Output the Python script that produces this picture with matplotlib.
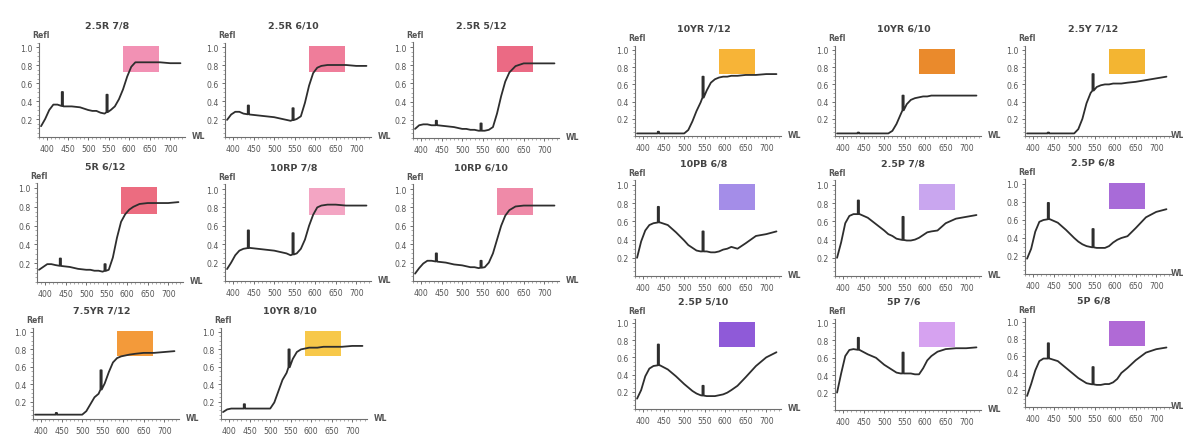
import matplotlib
matplotlib.use("Agg")
import matplotlib.pyplot as plt
import numpy as np
from matplotlib.ticker import MultipleLocator
from matplotlib.patches import Rectangle

# ---------------- data ----------------
WL = [385, 395, 405, 415, 425, 440, 460, 480, 500, 510, 520, 530, 540,
      555, 565, 575, 585, 595, 605, 615, 630, 650, 675, 700, 725]
SPIKE_WL = [437, 546]
X_TICKS = [400, 450, 500, 550, 600, 650, 700]
Y_TICKS = [0.2, 0.4, 0.6, 0.8, 1.0]

TITLES = ["2.5R 7/8", "2.5R 6/10", "2.5R 5/12",
          "5R 6/12", "10RP 7/8", "10RP 6/10",
          "7.5YR 7/12", "10YR 8/10",
          "10YR 7/12", "10YR 6/10", "2.5Y 7/12",
          "10PB 6/8", "2.5P 7/8", "2.5P 6/8",
          "2.5P 5/10", "5P 7/6", "5P 6/8"]

r_25R78 = [0.12, 0.20, 0.30, 0.36, 0.36, 0.34, 0.34, 0.33, 0.30, 0.29, 0.29, 0.27, 0.26,
           0.30, 0.34, 0.42, 0.53, 0.67, 0.78, 0.83, 0.83, 0.83, 0.83, 0.82, 0.82]
r_25R610 = [0.19, 0.25, 0.28, 0.28, 0.26, 0.25, 0.24, 0.23, 0.22, 0.21, 0.20, 0.19, 0.18,
            0.20, 0.23, 0.38, 0.57, 0.71, 0.77, 0.79, 0.80, 0.80, 0.80, 0.79, 0.79]
r_25R512 = [0.10, 0.14, 0.15, 0.15, 0.14, 0.14, 0.13, 0.12, 0.10, 0.10, 0.09, 0.09, 0.08,
            0.08, 0.09, 0.12, 0.27, 0.46, 0.62, 0.72, 0.79, 0.82, 0.82, 0.82, 0.82]
r_5R612 = [0.13, 0.16, 0.19, 0.19, 0.18, 0.17, 0.16, 0.14, 0.13, 0.13, 0.12, 0.12, 0.11,
           0.13, 0.26, 0.47, 0.64, 0.72, 0.77, 0.80, 0.83, 0.84, 0.84, 0.84, 0.85]
r_10RP78 = [0.13, 0.20, 0.28, 0.33, 0.35, 0.36, 0.35, 0.34, 0.33, 0.32, 0.31, 0.30, 0.28,
            0.30, 0.35, 0.45, 0.60, 0.72, 0.80, 0.82, 0.83, 0.83, 0.82, 0.82, 0.82]
r_10RP610 = [0.08, 0.14, 0.19, 0.22, 0.22, 0.21, 0.20, 0.18, 0.17, 0.16, 0.15, 0.15, 0.14,
             0.15, 0.20, 0.30, 0.45, 0.60, 0.71, 0.77, 0.81, 0.82, 0.82, 0.82, 0.82]
r_75YR712 = [0.05, 0.05, 0.05, 0.05, 0.05, 0.05, 0.05, 0.05, 0.05, 0.09, 0.17, 0.25, 0.29,
             0.41, 0.54, 0.65, 0.70, 0.72, 0.73, 0.74, 0.75, 0.76, 0.76, 0.77, 0.78]
r_10YR810 = [0.08, 0.11, 0.12, 0.12, 0.12, 0.12, 0.12, 0.12, 0.12, 0.19, 0.32, 0.45, 0.53,
             0.69, 0.77, 0.80, 0.81, 0.82, 0.82, 0.82, 0.83, 0.83, 0.83, 0.84, 0.84]
r_10YR712 = [0.03, 0.03, 0.03, 0.03, 0.03, 0.03, 0.03, 0.03, 0.03, 0.07, 0.17, 0.29, 0.39,
             0.53, 0.62, 0.66, 0.68, 0.69, 0.69, 0.70, 0.70, 0.71, 0.71, 0.72, 0.72]
r_10YR610 = [0.03, 0.03, 0.03, 0.03, 0.03, 0.03, 0.03, 0.03, 0.03, 0.03, 0.06, 0.14, 0.25,
             0.37, 0.42, 0.44, 0.45, 0.46, 0.46, 0.47, 0.47, 0.47, 0.47, 0.47, 0.47]
r_25Y712 = [0.03, 0.03, 0.03, 0.03, 0.03, 0.03, 0.03, 0.03, 0.03, 0.08, 0.20, 0.38, 0.50,
            0.57, 0.59, 0.60, 0.60, 0.61, 0.61, 0.61, 0.62, 0.63, 0.65, 0.67, 0.69]
r_10PB68 = [0.20, 0.38, 0.50, 0.56, 0.58, 0.59, 0.56, 0.48, 0.39, 0.34, 0.31, 0.28, 0.27,
            0.27, 0.26, 0.26, 0.27, 0.29, 0.30, 0.32, 0.30, 0.36, 0.44, 0.46, 0.49]
r_25P78 = [0.20, 0.37, 0.58, 0.66, 0.68, 0.68, 0.64, 0.57, 0.50, 0.46, 0.44, 0.41, 0.40,
           0.39, 0.39, 0.40, 0.42, 0.45, 0.48, 0.49, 0.50, 0.58, 0.63, 0.65, 0.67]
r_25P68 = [0.17, 0.28, 0.47, 0.58, 0.60, 0.61, 0.57, 0.49, 0.40, 0.36, 0.33, 0.31, 0.30,
           0.29, 0.29, 0.29, 0.31, 0.35, 0.38, 0.40, 0.42, 0.51, 0.63, 0.69, 0.72]
r_25P510 = [0.12, 0.22, 0.38, 0.47, 0.50, 0.51, 0.46, 0.38, 0.29, 0.25, 0.21, 0.18, 0.16,
            0.15, 0.15, 0.15, 0.16, 0.17, 0.19, 0.22, 0.27, 0.37, 0.50, 0.60, 0.66]
r_5P76 = [0.20, 0.42, 0.62, 0.69, 0.70, 0.69, 0.64, 0.60, 0.52, 0.49, 0.46, 0.43, 0.42,
          0.42, 0.42, 0.41, 0.41, 0.48, 0.57, 0.62, 0.67, 0.70, 0.71, 0.71, 0.72]
r_5P68 = [0.13, 0.27, 0.43, 0.54, 0.57, 0.57, 0.54, 0.46, 0.38, 0.34, 0.31, 0.28, 0.27,
          0.26, 0.26, 0.27, 0.27, 0.29, 0.33, 0.40, 0.46, 0.55, 0.64, 0.68, 0.70]

CURVES = [r_25R78, r_25R610, r_25R512, r_5R612, r_10RP78, r_10RP610,
          r_75YR712, r_10YR810, r_10YR712, r_10YR610, r_25Y712,
          r_10PB68, r_25P78, r_25P68, r_25P510, r_5P76, r_5P68]

# spike peak values at 437 nm and 546 nm
SPIKE_TOPS = [[0.50, 0.47], [0.35, 0.32], [0.19, 0.16],
              [0.25, 0.19], [0.55, 0.52], [0.30, 0.22],
              [0.07, 0.56], [0.17, 0.80],
              [0.05, 0.69], [0.04, 0.47], [0.04, 0.72],
              [0.76, 0.49], [0.83, 0.65], [0.79, 0.50],
              [0.75, 0.27], [0.83, 0.66], [0.75, 0.47]]

BOX_COLORS = ["#f291b4", "#ef7d9a", "#eb6a84",
              "#ec6c80", "#f3a5c3", "#ef8aa8",
              "#f39a3a", "#f7c84a",
              "#f7b437", "#ea8a2c", "#f3b532",
              "#a48de8", "#c9a6ef", "#a86bd8",
              "#8f5ad8", "#d6a2f0", "#b06ad6"]
BOX_WL = (585, 672)
BOX_R = (0.72, 1.01)

# ---------------- layout (pixels: y-axis x, y of 1.0, y of x-axis) ----------------
LAYOUT = [(39, 48, 138), (225, 48, 138), (413, 48, 139),
          (37, 189, 283), (225, 190, 282), (413, 190, 282),
          (33, 333, 420), (221, 333, 420),
          (635, 51, 137), (835, 51, 137), (1025, 51, 137),
          (635, 186, 277), (835, 186, 277), (1025, 185, 275),
          (635, 324, 410), (835, 324, 411), (1025, 323, 408)]

W, H = 1183, 439
XMIN, XMAX = 380, 735
YMAX = 1.05
PX_PER_NM = 0.41

fig = plt.figure(figsize=(W / 100, H / 100), dpi=100)
fig.patch.set_facecolor("white")

AX_COL = "#6f6f6f"
TXT_COL = "#555555"


def with_spikes(wl, r, swl, tops, hw=1.5):
    xs = list(wl)
    ys = list(r)
    for w, t in zip(swl, tops):
        base = float(np.interp(w, wl, r))
        idx = int(np.searchsorted(xs, w - hw))
        xs[idx:idx] = [w - hw, w - hw, w + hw, w + hw]
        ys[idx:idx] = [base, t, t, base]
    return xs, ys


for i, title in enumerate(TITLES):
    x0, top, axis = LAYOUT[i]
    h_px = (axis - top) * YMAX
    w_px = (XMAX - XMIN) * PX_PER_NM
    ax = fig.add_axes([x0 / W, (H - axis) / H, w_px / W, h_px / H])
    ax.set_xlim(XMIN, XMAX)
    ax.set_ylim(0, YMAX)
    ax.patch.set_alpha(0)
    for s in ("top", "right"):
        ax.spines[s].set_visible(False)
    for s in ("left", "bottom"):
        ax.spines[s].set_color(AX_COL)
        ax.spines[s].set_linewidth(0.8)
    ax.set_xticks(X_TICKS)
    ax.set_xticklabels([str(v) for v in X_TICKS])
    ax.set_yticks(Y_TICKS)
    ax.set_yticklabels(["%.1f" % v for v in Y_TICKS])
    ax.xaxis.set_minor_locator(MultipleLocator(10))
    ax.yaxis.set_minor_locator(MultipleLocator(0.05))
    ax.tick_params(which="major", length=2.2, width=0.7, color=AX_COL,
                   labelsize=5.6, labelcolor=TXT_COL, pad=2.5)
    ax.tick_params(which="minor", length=1.3, width=0.5, color="#8a8a8a")

    ax.add_patch(Rectangle((BOX_WL[0], BOX_R[0]), BOX_WL[1] - BOX_WL[0],
                           BOX_R[1] - BOX_R[0], facecolor=BOX_COLORS[i],
                           edgecolor="none", zorder=1))

    xs, ys = with_spikes(WL, CURVES[i], SPIKE_WL, SPIKE_TOPS[i])
    ax.plot(xs, ys, color="#2e2e2e", lw=1.3, solid_joinstyle="round",
            solid_capstyle="round", zorder=3, clip_on=False)

    ax.annotate(title, xy=(0.47, 1.0), xycoords=("axes fraction", "data"),
                xytext=(0, 16), textcoords="offset points", ha="center",
                va="center", fontsize=6.8, fontweight="bold", color="#444444")
    ax.annotate("Refl", xy=(XMIN, 1.0), xycoords="data", xytext=(-5, 9),
                textcoords="offset points", ha="left", va="center",
                fontsize=5.6, fontweight="bold", color=TXT_COL)
    wl_off = 5 if x0 < 1000 else 0
    ax.annotate("WL", xy=(XMAX, 0), xycoords="data", xytext=(wl_off, 1),
                textcoords="offset points", ha="left", va="center",
                fontsize=5.6, fontweight="bold", color=TXT_COL)

fig.savefig("out.png", dpi=100)
